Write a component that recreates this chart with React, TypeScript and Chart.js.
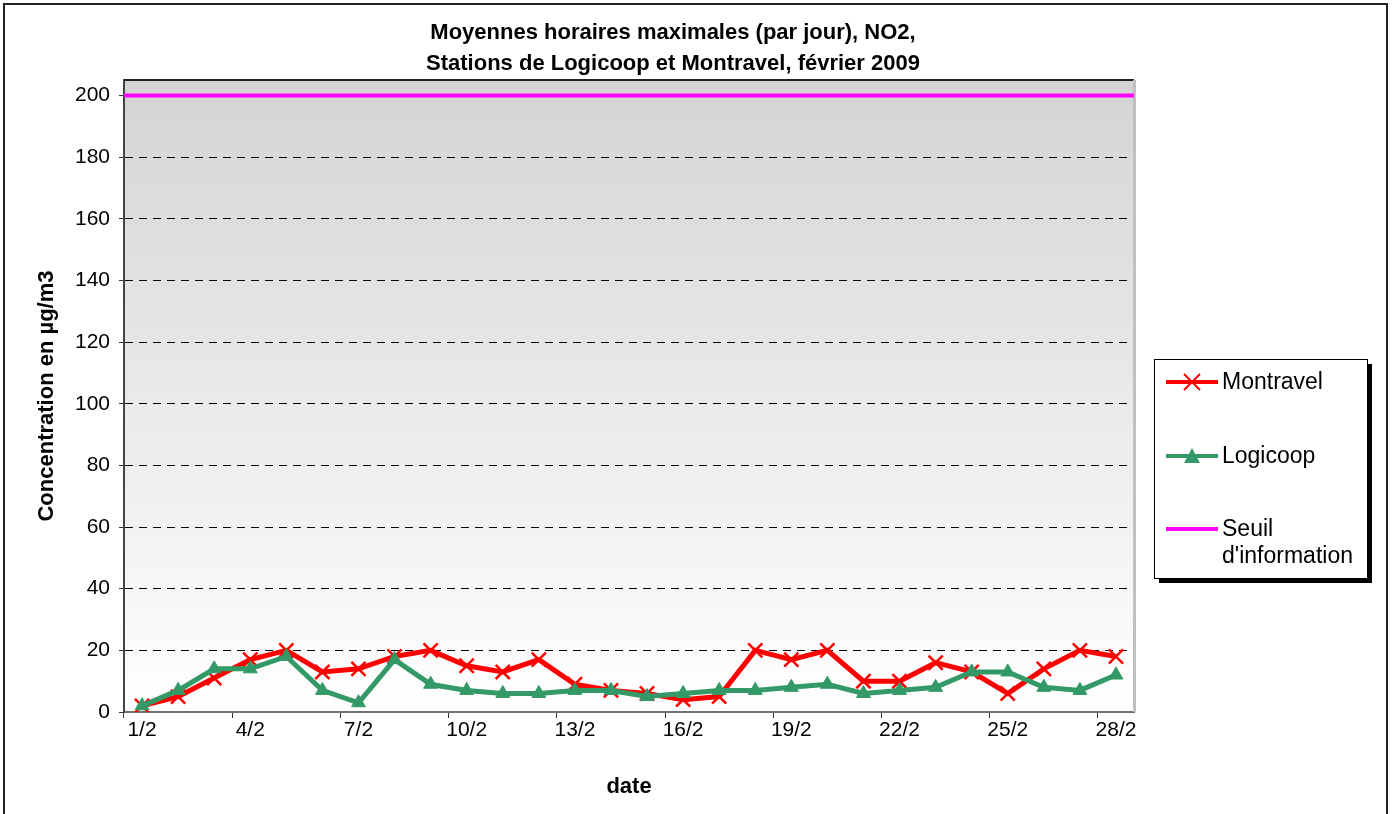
import React, { useEffect, useRef } from "react";
import { Chart, registerables } from "chart.js";

Chart.register(...registerables);

const DATES = [
  "1/2", "2/2", "3/2", "4/2", "5/2", "6/2", "7/2", "8/2", "9/2", "10/2",
  "11/2", "12/2", "13/2", "14/2", "15/2", "16/2", "17/2", "18/2", "19/2", "20/2",
  "21/2", "22/2", "23/2", "24/2", "25/2", "26/2", "27/2", "28/2",
];
const MONTRAVEL = [2, 5, 11, 17, 20, 13, 14, 18, 20, 15, 13, 17, 9, 7, 6, 4, 5, 20, 17, 20, 10, 10, 16, 13, 6, 14, 20, 18];
const LOGICOOP = [2, 7, 14, 14, 18, 7, 3, 17, 9, 7, 6, 6, 7, 7, 5, 6, 7, 7, 8, 9, 6, 7, 8, 13, 13, 8, 7, 12];
const SEUIL = 200;
const Y_TICKS = [0, 20, 40, 60, 80, 100, 120, 140, 160, 180, 200];
const Y_MAX = 205;
const TITLE_LINES = ["Moyennes horaires maximales (par jour), NO2,", "Stations de Logicoop et Montravel, février 2009"];
const Y_TITLE = "Concentration en µg/m3";
const X_TITLE = "date";
const LEGEND_LABELS = ["Montravel", "Logicoop", "Seuil\nd'information"];

const RED = "#ff0000";
const GREEN = "#339966";
const MAGENTA = "#ff00ff";
const FONT = "'Liberation Sans', Arial, sans-serif";

const decor = {
  id: "decor",
  beforeDraw(chart: any) {
    const { ctx, chartArea: a } = chart;
    ctx.save();
    ctx.fillStyle = "#fff";
    ctx.fillRect(0, 0, chart.width, chart.height);
    const g = ctx.createLinearGradient(0, a.top, 0, a.bottom);
    g.addColorStop(0, "#d4d4d4");
    g.addColorStop(1, "#ffffff");
    ctx.fillStyle = g;
    ctx.fillRect(a.left, a.top, a.right - a.left, a.bottom - a.top);
    ctx.restore();
  },
  beforeDatasetsDraw(chart: any) {
    const { ctx, chartArea: a, scales } = chart;
    ctx.save();
    ctx.strokeStyle = "#222";
    ctx.lineWidth = 2;
    ctx.beginPath();
    ctx.moveTo(a.left, a.top);
    ctx.lineTo(a.right, a.top);
    ctx.stroke();
    ctx.strokeStyle = "#c0c0c0";
    ctx.lineWidth = 3;
    ctx.beginPath();
    ctx.moveTo(a.right + 0.5, a.top);
    ctx.lineTo(a.right + 0.5, a.bottom);
    ctx.stroke();
    const y = scales.y.getPixelForValue(SEUIL);
    ctx.strokeStyle = MAGENTA;
    ctx.lineWidth = 4;
    ctx.beginPath();
    ctx.moveTo(a.left, y);
    ctx.lineTo(a.right, y);
    ctx.stroke();
    ctx.restore();
  },
  afterDraw(chart: any) {
    const { ctx, chartArea: a } = chart;
    ctx.save();
    ctx.strokeStyle = "#222";
    ctx.lineWidth = 2;
    ctx.strokeRect(4, 4, 1383, 820);
    ctx.fillStyle = "#000";
    ctx.textAlign = "center";
    ctx.textBaseline = "middle";
    ctx.font = `bold 22px ${FONT}`;
    ctx.fillText(TITLE_LINES[0], 673, 33);
    ctx.fillText(TITLE_LINES[1], 673, 64);
    ctx.fillText(X_TITLE, (a.left + a.right) / 2, 787);
    ctx.save();
    ctx.translate(47, (a.top + a.bottom) / 2);
    ctx.rotate(-Math.PI / 2);
    ctx.fillText(Y_TITLE, 0, 0);
    ctx.restore();
    const lx = 1154, ly = 359, lw = 213, lh = 219;
    ctx.fillStyle = "#000";
    ctx.fillRect(lx + 5, ly + 5, lw, lh);
    ctx.fillStyle = "#fff";
    ctx.fillRect(lx, ly, lw, lh);
    ctx.strokeStyle = "#000";
    ctx.lineWidth = 1;
    ctx.strokeRect(lx + 0.5, ly + 0.5, lw, lh);
    const rows = [382, 456, 529];
    const colors = [RED, GREEN, MAGENTA];
    ctx.textAlign = "left";
    ctx.font = `23px ${FONT}`;
    rows.forEach((ry, i) => {
      ctx.strokeStyle = colors[i];
      ctx.lineWidth = 4;
      ctx.beginPath();
      ctx.moveTo(1166, ry);
      ctx.lineTo(1218, ry);
      ctx.stroke();
      const cx = 1192;
      if (i === 0) {
        ctx.lineWidth = 2;
        ctx.beginPath();
        ctx.moveTo(cx - 8, ry - 8);
        ctx.lineTo(cx + 8, ry + 8);
        ctx.moveTo(cx + 8, ry - 8);
        ctx.lineTo(cx - 8, ry + 8);
        ctx.stroke();
      } else if (i === 1) {
        ctx.fillStyle = GREEN;
        ctx.beginPath();
        ctx.moveTo(cx, ry - 8);
        ctx.lineTo(cx + 8, ry + 7);
        ctx.lineTo(cx - 8, ry + 7);
        ctx.closePath();
        ctx.fill();
      }
      ctx.fillStyle = "#000";
      const lines = LEGEND_LABELS[i].split("\n");
      lines.forEach((t, k) => ctx.fillText(t, 1222, ry + 1 + k * 27));
    });
    ctx.restore();
  },
};

export default function App() {
  const ref = useRef<HTMLCanvasElement>(null);
  useEffect(() => {
    if (!ref.current) return;
    const chart = new Chart(ref.current, {
      type: "line",
      data: {
        labels: DATES,
        datasets: [
          {
            label: "Montravel",
            data: MONTRAVEL,
            borderColor: RED,
            backgroundColor: RED,
            borderWidth: 5,
            pointStyle: "crossRot",
            pointRadius: 10,
            pointBorderWidth: 2.5,
            pointBorderColor: RED,
            order: 1,
          },
          {
            label: "Logicoop",
            data: LOGICOOP,
            borderColor: GREEN,
            backgroundColor: GREEN,
            borderWidth: 5,
            pointStyle: "triangle",
            pointRadius: 8,
            pointBorderWidth: 1,
            pointBorderColor: GREEN,
            order: 0,
          },
        ],
      },
      options: {
        responsive: false,
        animation: false,
        events: [],
        layout: { padding: { left: 0, top: 80, right: 259, bottom: 42 } },
        plugins: { legend: { display: false }, title: { display: false }, tooltip: { enabled: false } },
        elements: { line: { tension: 0 } },
        scales: {
          x: {
            type: "category",
            offset: true,
            afterFit: (s: any) => { s.height = 60; },
            border: { display: true, color: "#707070", width: 2 },
            grid: {
              offset: true,
              drawOnChartArea: false,
              drawTicks: true,
              tickLength: 6,
              tickWidth: 1,
              tickColor: (c: any) => (c.index % 3 === 0 ? "#333" : "rgba(0,0,0,0)"),
            },
            ticks: {
              autoSkip: false,
              maxRotation: 0,
              padding: 0,
              color: "#000",
              font: { family: FONT, size: 21 },
              callback: (_v: any, i: number) => (i % 3 === 0 ? DATES[i] : ""),
            },
          },
          y: {
            min: 0,
            max: Y_MAX,
            afterFit: (s: any) => { s.width = 124; },
            afterBuildTicks: (s: any) => { s.ticks = Y_TICKS.map((v) => ({ value: v })); },
            border: { display: true, color: "#444", width: 2, dash: [8, 6] },
            grid: {
              color: "#000",
              lineWidth: 1,
              tickLength: 5,
              tickColor: "#333",
              tickBorderDash: [],
            },
            ticks: {
              padding: 9,
              color: "#000",
              font: { family: FONT, size: 21 },
            },
          },
        },
      },
      plugins: [decor],
    });
    return () => chart.destroy();
  }, []);
  return (
    <div style={{ position: "absolute", left: 0, top: 0, width: 1393, height: 814 }}>
      <canvas ref={ref} width={1393} height={814} style={{ display: "block" }} />
    </div>
  );
}
